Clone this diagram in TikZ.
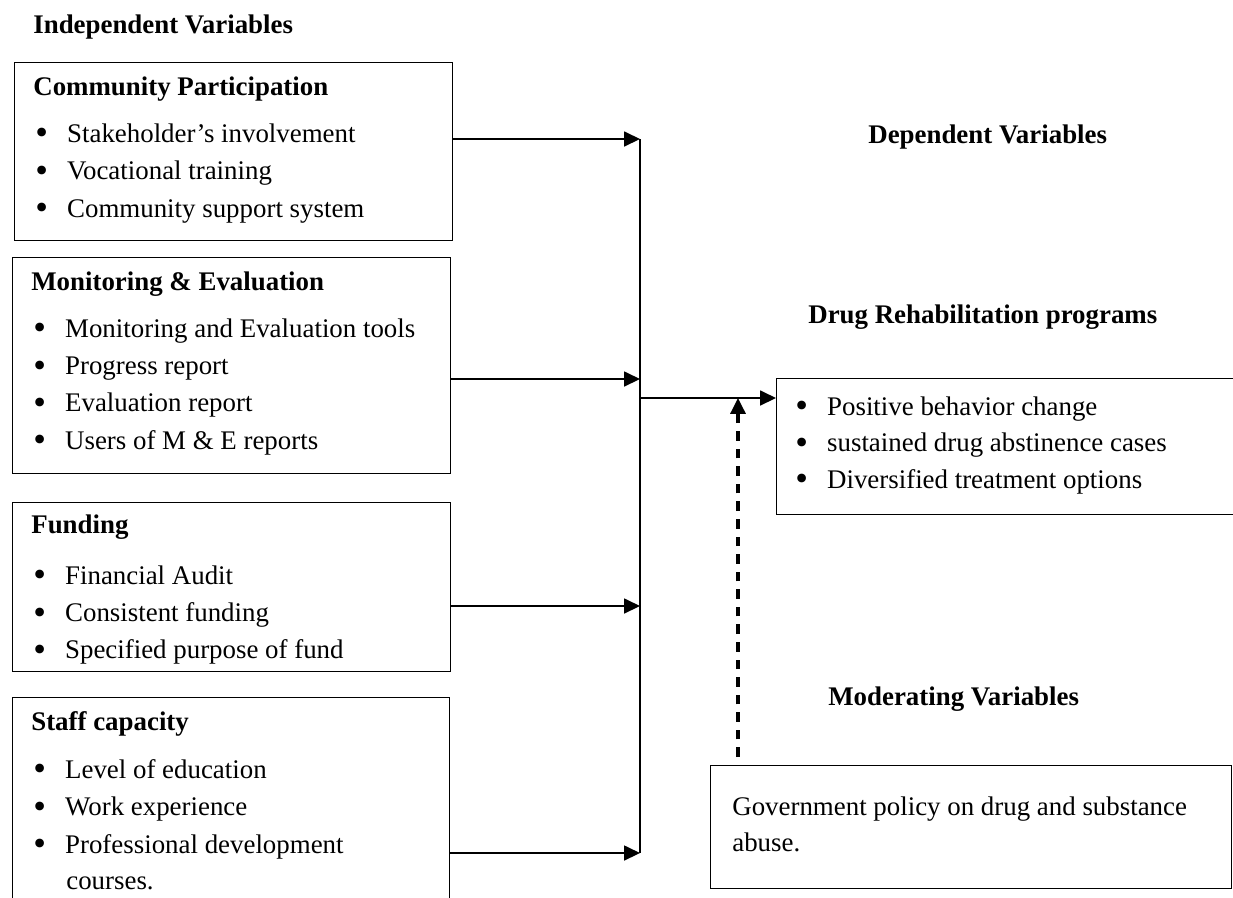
\documentclass[tikz,border=0pt]{standalone}
\usepackage{fontspec}
\setmainfont{Liberation Serif}
\usetikzlibrary{arrows.meta}
\newcommand{\bul}{\makebox[18.1pt][l]{\raisebox{-0.1em}{\scalebox{1.35}{\textbullet}}}}

\begin{document}
\begin{tikzpicture}[x=0.02cm, y=-0.02cm,
		every node/.style={inner sep=0, font=\fontsize{15.3}{18}\selectfont},
		box/.style={draw, line width=0.8pt, anchor=north west, minimum width=8.76cm},
		head/.style={anchor=base west, font=\fontsize{15.3}{18}\selectfont\bfseries},
		item/.style={anchor=base west},
		arr/.style={-{Triangle[length=9pt, width=8.5pt]}, line width=0.8pt},
		modarr/.style={-{Triangle[length=9pt, width=8.5pt]}, line width=1.8pt, dash pattern=on 5.5pt off 4.5pt}]
		\useasboundingbox (0,0) rectangle (1233,897);
		\clip (0,0) rectangle (1233,897);
		
		% boxes
		\node[box, minimum height=3.56cm] (cp) at (14,62) {};
		\node[box, minimum height=4.32cm] (me) at (12,257) {};
		\node[box, minimum height=3.38cm] (fu) at (12,502) {};
		\node[box, minimum height=4.6cm, minimum width=8.74cm] (sc) at (12,697) {};
		\node[box, minimum height=2.72cm, minimum width=9.5cm] (dv) at (776,378) {};
		\node[box, minimum height=2.46cm, minimum width=10.42cm] (mv) at (710,765) {};
		
		% headings
		\node[head] (iv) at (33,33) {Independent Variables};
		\node[head] (cp-h) at (33,95) {Community Participation};
		\node[head] (me-h) at (31,290) {Monitoring \& Evaluation};
		\node[head] (fu-h) at (31,533) {Funding};
		\node[head] (sc-h) at (31,730) {Staff capacity};
		\node[head] (dv-h) at (868,143) {Dependent Variables};
		\node[head] (dr-h) at (808,323) {Drug Rehabilitation programs};
		\node[head] (mv-h) at (828,705) {Moderating Variables};
		
		% bullet items
		\foreach \t [count=\i] in {Stakeholder’s involvement, Vocational training, Community support system} {
			\node[item] (cp-\i) at (35, {142+37.5*(\i-1)}) {\bul\t};
		}
		\foreach \t [count=\i] in {Monitoring and Evaluation tools, Progress report, Evaluation report, Users of M \& E reports} {
			\node[item] (me-\i) at (33, {337+37.4*(\i-1)}) {\bul\t};
		}
		\foreach \t [count=\i] in {Financial Audit, Consistent funding, Specified purpose of fund} {
			\node[item] (fu-\i) at (33, {584+37.3*(\i-1)}) {\bul\t};
		}
		\foreach \t [count=\i] in {Level of education, Work experience, Professional development} {
			\node[item] (sc-\i) at (33, {778+37.5*(\i-1)}) {\bul\t};
		}
		\node[item] (sc-4) at (66,889) {courses.};
		\foreach \t [count=\i] in {Positive behavior change, sustained drug abstinence cases, Diversified treatment options} {
			\node[item] (dv-\i) at (795, {415+36.5*(\i-1)}) {\bul\t};
		}
		\node[item] (mv-1) at (732,815) {Government policy on drug and substance};
		\node[item] (mv-2) at (732,851) {abuse.};
		
		% connectors
		\coordinate (j1) at (640,139);
		\coordinate (j2) at (640,379);
		\coordinate (j3) at (640,606);
		\coordinate (j4) at (640,853);
		\coordinate (jd) at (640,398);
		\coordinate (mtop) at (738,757);
		
		\draw[line width=0.8pt] (j1) -- (j4);
		\foreach \b/\j in {cp/j1, me/j2, fu/j3, sc/j4} {
			\draw[arr] (\b.east |- \j) -- (\j);
		}
		\draw[arr] (jd) -- (dv.west |- jd);
		\draw[modarr] (mtop) -- (mtop |- jd);
	
	\end{tikzpicture}
\end{document}
